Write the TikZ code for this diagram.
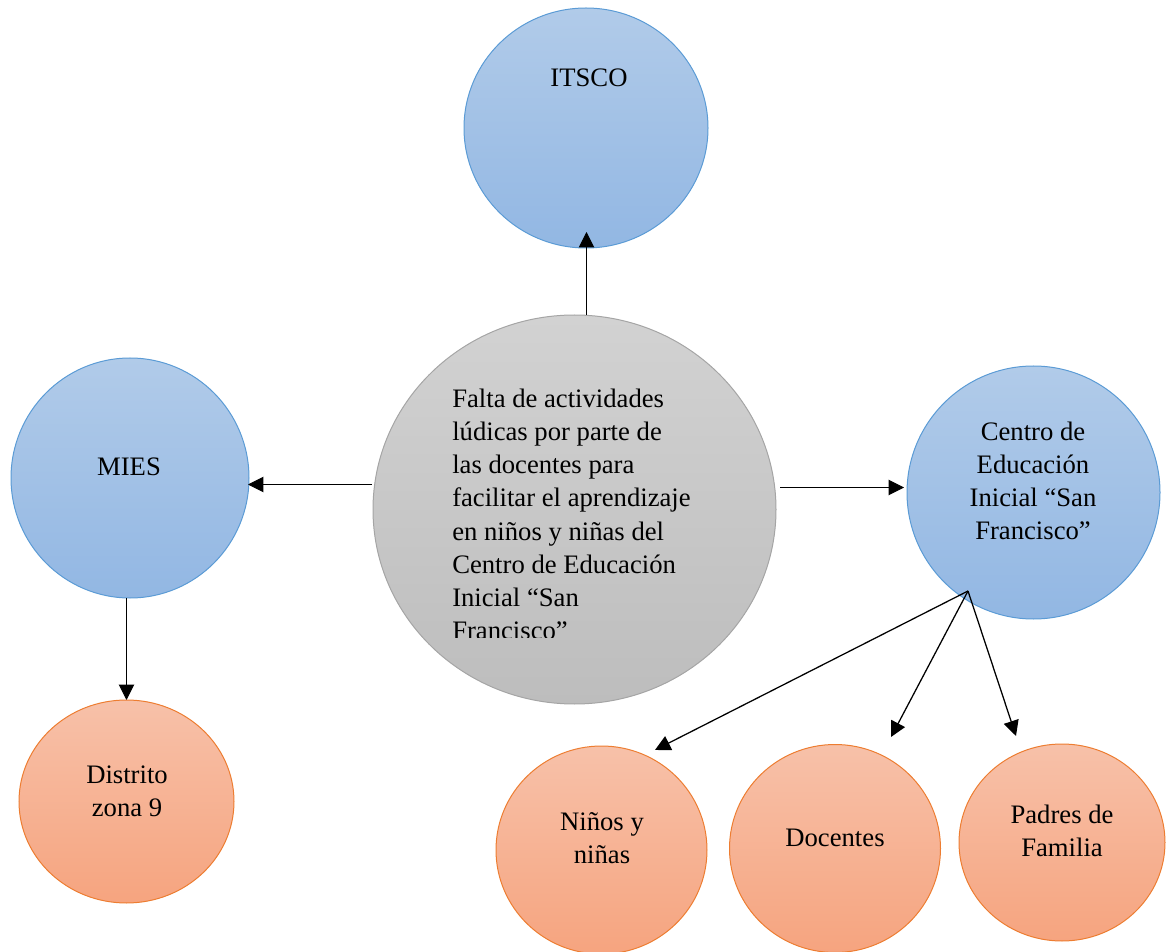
\documentclass[tikz,border=0pt]{standalone}
\usepackage{fontspec}
\setmainfont{Liberation Serif}
\usetikzlibrary{shapes.geometric,arrows.meta}
\tikzset{
  x=0.75pt,y=-0.75pt,
  bub/.style={ellipse,inner sep=0pt,line width=0.75pt},
  blue bub/.style={bub,draw=c5B9BD5,top color=cB1CBE9,bottom color=c92B7E3},
  orange bub/.style={bub,draw=cED7D31,top color=cF7C1A9,bottom color=cF6A47F},
  gray bub/.style={bub,draw=cA5A5A5,top color=cD2D2D2,bottom color=cBDBDBD},
  lbl/.style={align=center,inner sep=0pt,font=\fontsize{20}{24.8}\selectfont,text=black},
  arr/.style={draw=black,line width=0.75pt,-{Triangle[length=11.5pt,width=11.5pt]}},
  fanarr/.style={draw=black,line width=0.95pt,-{Triangle[length=11.5pt,width=11.5pt]}}
}
\definecolor{c5B9BD5}{HTML}{5B9BD5}
\definecolor{cB1CBE9}{HTML}{B1CBE9}
\definecolor{c92B7E3}{HTML}{92B7E3}
\definecolor{cED7D31}{HTML}{ED7D31}
\definecolor{cF7C1A9}{HTML}{F7C1A9}
\definecolor{cF6A47F}{HTML}{F6A47F}
\definecolor{cA5A5A5}{HTML}{A5A5A5}
\definecolor{cD2D2D2}{HTML}{D2D2D2}
\definecolor{cBDBDBD}{HTML}{BDBDBD}
\begin{document}
\begin{tikzpicture}
\useasboundingbox (0,0) rectangle (1172,952);
\begin{scope}
\clip (0,0) rectangle (1172,952);
\node[blue bub,minimum width=183pt,minimum height=180pt] (itsco) at (586,128) {};
\node[blue bub,minimum width=178.5pt,minimum height=180pt] (mies) at (130,478) {};
\node[blue bub,minimum width=189.75pt,minimum height=189.75pt] (centro) at (1033.5,492.5) {};
\node[gray bub,minimum width=302.25pt,minimum height=291.75pt] (falta) at (574.5,509.5) {};
\node[orange bub,minimum width=161.25pt,minimum height=152.25pt] (distrito) at (126.5,801.5) {};
\node[orange bub,minimum width=158.25pt,minimum height=156pt] (ninos) at (601.5,850) {};
\node[orange bub,minimum width=158.25pt,minimum height=156pt] (docentes) at (835,848.5) {};
\node[orange bub,minimum width=154.5pt,minimum height=147.75pt] (padres) at (1062,842.5) {};
\end{scope}
\node[lbl] (titsco) at (589,78) {ITSCO};
\node[lbl] (tmies) at (129,467) {MIES};
\node[lbl] (tcentro) at (1033,480.5) {Centro de\\Educación\\Inicial “San\\Francisco”};
\node[lbl] (tdistrito) at (127,791) {Distrito\\zona 9};
\node[lbl] (tninos) at (602,838.5) {Niños y\\niñas};
\node[lbl] (tdocentes) at (835,837.5) {Docentes};
\node[lbl] (tpadres) at (1062,831) {Padres de\\Familia};
\begin{scope}
\clip (440,380) rectangle (700,637);
\node[lbl,align=left,anchor=north west] (tfalta) at (452,389) {Falta de actividades\\lúdicas por parte de\\las docentes para\\facilitar el aprendizaje\\en niños y niñas del\\Centro de Educación\\Inicial “San\\Francisco”};
\end{scope}
\coordinate (a1s) at (586.5,315);
\coordinate (a1e) at (586.5,232);
\coordinate (a2s) at (372,484.5);
\coordinate (a2e) at (248,484.5);
\coordinate (a3s) at (780,487.5);
\coordinate (a3e) at (904,487.5);
\coordinate (a4s) at (126.5,598);
\coordinate (a4e) at (126.5,700);
\coordinate (fan) at (968,591);
\coordinate (a5e) at (655,750);
\coordinate (a6e) at (891,737);
\coordinate (a7e) at (1016,736);
\draw[arr] (a1s) -- (a1e);
\draw[arr] (a2s) -- (a2e);
\draw[arr] (a3s) -- (a3e);
\draw[arr] (a4s) -- (a4e);
\draw[fanarr] (fan) -- (a5e);
\draw[fanarr] (fan) -- (a6e);
\draw[fanarr] (fan) -- (a7e);
\end{tikzpicture}
\end{document}
